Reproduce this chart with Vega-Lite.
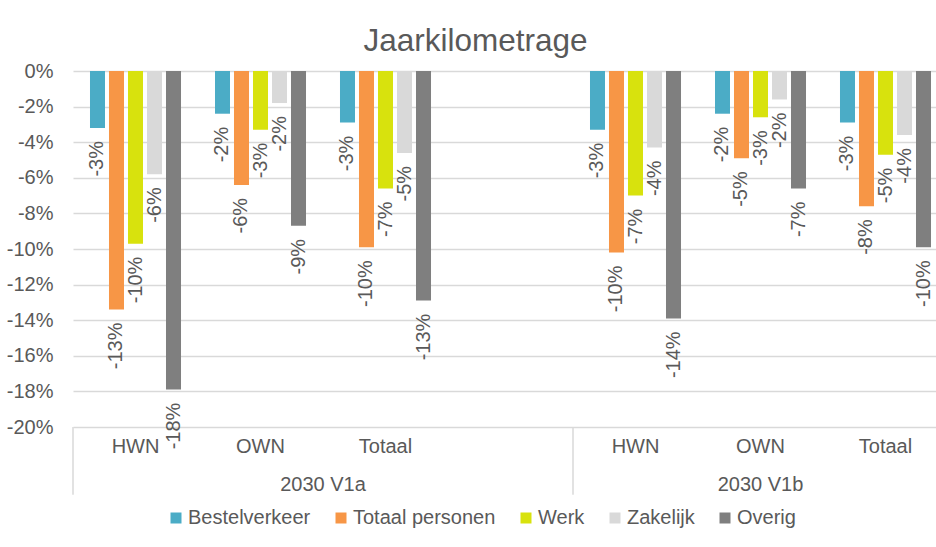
{
  "$schema": "https://vega.github.io/schema/vega-lite/v6.json",
  "width": 863,
  "height": 356,
  "autosize": {"type": "none"},
  "padding": {"left": 73, "top": 71, "right": 0, "bottom": 120},
  "background": "white",
  "title": {
    "text": "Jaarkilometrage",
    "fontSize": 31.5,
    "font": "Liberation Sans",
    "fontWeight": "normal",
    "color": "#595959",
    "anchor": "middle",
    "baseline": "alphabetic",
    "offset": -21,
    "dx": -29
  },
  "config": {
    "font": "Liberation Sans",
    "view": {"stroke": null},
    "locale": {
      "number": {"decimal": ".", "thousands": ",", "grouping": [3], "currency": ["", ""], "minus": "-"}
    },
    "axisY": {"tickCount": 25}
  },
  "datasets": {
    "bars": [
      {"key": "2030 V1a|HWN", "serie": "Bestelverkeer", "value": -0.032},
      {"key": "2030 V1a|HWN", "serie": "Totaal personen", "value": -0.134},
      {"key": "2030 V1a|HWN", "serie": "Werk", "value": -0.097},
      {"key": "2030 V1a|HWN", "serie": "Zakelijk", "value": -0.058},
      {"key": "2030 V1a|HWN", "serie": "Overig", "value": -0.179},
      {"key": "2030 V1a|OWN", "serie": "Bestelverkeer", "value": -0.024},
      {"key": "2030 V1a|OWN", "serie": "Totaal personen", "value": -0.064},
      {"key": "2030 V1a|OWN", "serie": "Werk", "value": -0.033},
      {"key": "2030 V1a|OWN", "serie": "Zakelijk", "value": -0.018},
      {"key": "2030 V1a|OWN", "serie": "Overig", "value": -0.087},
      {"key": "2030 V1a|Totaal", "serie": "Bestelverkeer", "value": -0.029},
      {"key": "2030 V1a|Totaal", "serie": "Totaal personen", "value": -0.099},
      {"key": "2030 V1a|Totaal", "serie": "Werk", "value": -0.066},
      {"key": "2030 V1a|Totaal", "serie": "Zakelijk", "value": -0.046},
      {"key": "2030 V1a|Totaal", "serie": "Overig", "value": -0.129},
      {"key": "2030 V1b|HWN", "serie": "Bestelverkeer", "value": -0.033},
      {"key": "2030 V1b|HWN", "serie": "Totaal personen", "value": -0.102},
      {"key": "2030 V1b|HWN", "serie": "Werk", "value": -0.07},
      {"key": "2030 V1b|HWN", "serie": "Zakelijk", "value": -0.043},
      {"key": "2030 V1b|HWN", "serie": "Overig", "value": -0.139},
      {"key": "2030 V1b|OWN", "serie": "Bestelverkeer", "value": -0.024},
      {"key": "2030 V1b|OWN", "serie": "Totaal personen", "value": -0.049},
      {"key": "2030 V1b|OWN", "serie": "Werk", "value": -0.026},
      {"key": "2030 V1b|OWN", "serie": "Zakelijk", "value": -0.016},
      {"key": "2030 V1b|OWN", "serie": "Overig", "value": -0.066},
      {"key": "2030 V1b|Totaal", "serie": "Bestelverkeer", "value": -0.029},
      {"key": "2030 V1b|Totaal", "serie": "Totaal personen", "value": -0.076},
      {"key": "2030 V1b|Totaal", "serie": "Werk", "value": -0.047},
      {"key": "2030 V1b|Totaal", "serie": "Zakelijk", "value": -0.036},
      {"key": "2030 V1b|Totaal", "serie": "Overig", "value": -0.099}
    ]
  },
  "layer": [
    {
      "data": {"name": "bars"},
      "mark": {"type": "bar"},
      "encoding": {
        "x": {
          "field": "key",
          "type": "nominal",
          "scale": {
            "domain": ["2030 V1a|HWN", "2030 V1a|OWN", "2030 V1a|Totaal", "2030 V1a|", "2030 V1b|HWN", "2030 V1b|OWN", "2030 V1b|Totaal"],
            "range": [0, 875],
            "paddingInner": 0,
            "paddingOuter": 0
          },
          "axis": {
            "title": null,
            "labelExpr": "split(datum.label, '|')[1]",
            "labelAngle": 0,
            "labelFontSize": 20,
            "labelColor": "#595959",
            "labelPadding": 9,
            "labelBaseline": "top",
            "labelOverlap": false,
            "ticks": false,
            "tickSize": 0,
            "domain": false,
            "grid": false
          }
        },
        "xOffset": {
          "field": "serie",
          "type": "nominal",
          "scale": {
            "domain": ["Bestelverkeer", "Totaal personen", "Werk", "Zakelijk", "Overig"],
            "paddingInner": 0.21,
            "paddingOuter": 0.894
          }
        },
        "y": {
          "field": "value",
          "type": "quantitative",
          "scale": {"domain": [-0.2, 0], "nice": false, "zero": false},
          "axis": {
            "title": null,
            "format": ".0%",
            "values": [0, -0.02, -0.04, -0.06, -0.08, -0.1, -0.12, -0.14, -0.16, -0.18, -0.2],
            "tickCount": 25,
            "labelFontSize": 20,
            "labelColor": "#595959",
            "labelPadding": 20,
            "labelOverlap": false,
            "ticks": false,
            "tickSize": 0,
            "domain": false,
            "grid": true,
            "gridColor": "#d9d9d9",
            "gridWidth": 1.5
          }
        },
        "color": {
          "field": "serie",
          "type": "nominal",
          "scale": {
            "domain": ["Bestelverkeer", "Totaal personen", "Werk", "Zakelijk", "Overig"],
            "range": ["#4bacc6", "#f79646", "#d8e20d", "#d9d9d9", "#7f7f7f"]
          },
          "legend": {
            "title": null,
            "orient": "none",
            "legendX": 93,
            "legendY": 437,
            "direction": "horizontal",
            "columns": 5,
            "symbolType": "square",
            "symbolSize": 121,
            "symbolStrokeWidth": 0,
            "labelFontSize": 20,
            "labelColor": "#595959",
            "labelOffset": 2,
            "columnPadding": 20,
            "padding": 0,
            "labelLimit": 300
          }
        }
      }
    },
    {
      "data": {"name": "bars"},
      "mark": {
        "type": "text",
        "angle": 270,
        "align": "right",
        "baseline": "middle",
        "dx": -13,
        "fontSize": 20,
        "color": "#595959"
      },
      "encoding": {
        "x": {"field": "key", "type": "nominal"},
        "xOffset": {"field": "serie", "type": "nominal"},
        "y": {"field": "value", "type": "quantitative"},
        "text": {"field": "value", "type": "quantitative", "format": ".0%"}
      }
    },
    {
      "data": {"values": [{"k": "2030 V1a|HWN"}, {"k": "2030 V1b|HWN"}]},
      "mark": {"type": "rule", "color": "#d9d9d9", "strokeWidth": 1.5},
      "encoding": {
        "x": {"field": "k", "type": "nominal", "bandPosition": 0},
        "y": {"datum": -0.2},
        "y2": {"datum": -0.238}
      }
    },
    {
      "data": {"values": [{"k": "2030 V1a|Totaal", "t": "2030 V1a"}]},
      "mark": {"type": "text", "fontSize": 20, "color": "#595959", "baseline": "middle", "align": "center"},
      "encoding": {
        "x": {"field": "k", "type": "nominal", "bandPosition": 0},
        "y": {"datum": -0.2326},
        "text": {"field": "t"}
      }
    },
    {
      "data": {"values": [{"k": "2030 V1b|OWN", "t": "2030 V1b"}]},
      "mark": {"type": "text", "fontSize": 20, "color": "#595959", "baseline": "middle", "align": "center"},
      "encoding": {
        "x": {"field": "k", "type": "nominal", "bandPosition": 0.5},
        "y": {"datum": -0.2326},
        "text": {"field": "t"}
      }
    }
  ]
}
